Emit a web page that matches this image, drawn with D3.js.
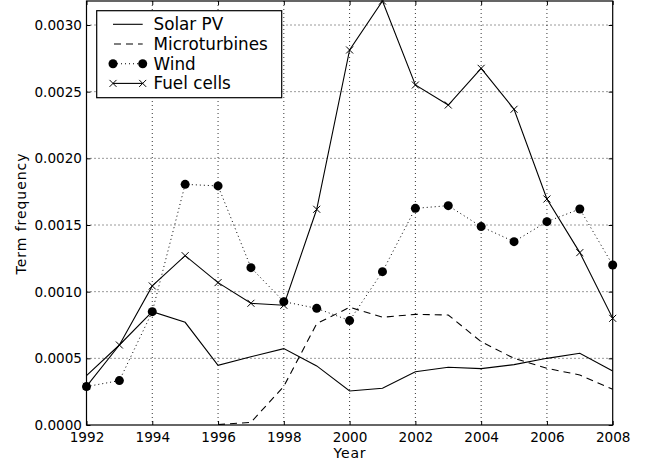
<!DOCTYPE html>
<html><head><meta charset="utf-8">
<script src="https://cdn.jsdelivr.net/npm/d3@7"></script>
<style>body{margin:0;background:#fff}svg{display:block;font-family:"DejaVu Sans",sans-serif}</style>
</head><body><div id="chart"></div>
<script>
const years = d3.range(1992, 2009);
const solarPV = [0.00037,0.00060,0.00085,0.00077,0.000448,0.000512,0.000573,0.000443,0.000255,0.000275,0.00040,0.000433,0.000423,0.000453,0.00050,0.000538,0.000405];
const microYears = d3.range(1996, 2009);
const microturbines = [0.000003,0.00002,0.00029,0.00076,0.000883,0.000808,0.00083,0.000825,0.000625,0.0005,0.000425,0.000375,0.000268];
const wind = [0.000288,0.000333,0.00085,0.001805,0.001793,0.00118,0.000925,0.000875,0.000783,0.00115,0.001625,0.001645,0.001488,0.001375,0.001525,0.00162,0.0012];
const fuelCells = [0.00029,0.00060,0.001043,0.00127,0.001068,0.000913,0.000898,0.001618,0.0028125,0.00318,0.00255,0.0024,0.002675,0.002368,0.001695,0.001293,0.0008];
const xTicks = [1992,1994,1996,1998,2000,2002,2004,2006,2008];
const yTicks = [0,0.0005,0.001,0.0015,0.002,0.0025,0.003];
const legendNames = ["Solar PV", "Microturbines", "Wind", "Fuel cells"];

const W = 647, H = 463;
const L = 86.5, R = 612.7, T = 1, B = 425;
const svg = d3.select("#chart").append("svg").attr("width", W).attr("height", H);
const x = d3.scaleLinear().domain([1992, 2008]).range([L, R]);
const y = d3.scaleLinear().domain([0, 0.00318]).range([B, T]);

svg.append("clipPath").attr("id", "plotclip").append("rect").attr("x", L).attr("y", T).attr("width", R - L).attr("height", B - T);

// grid
const grid = svg.append("g");
grid.selectAll(".gx").data(xTicks.slice(1, -1)).join("line")
  .attr("x1", d => x(d)).attr("x2", d => x(d)).attr("y1", T).attr("y2", B)
  .attr("stroke", "#000").attr("stroke-width", 0.8).attr("stroke-dasharray", "1,3");
grid.selectAll(".gy").data(yTicks.slice(1)).join("line")
  .attr("x1", L).attr("x2", R).attr("y1", d => y(d)).attr("y2", d => y(d))
  .attr("stroke", "#000").attr("stroke-width", 0.8).attr("stroke-dasharray", "1,3");

const plot = svg.append("g").attr("clip-path", "url(#plotclip)");
const line = d3.line().x(d => x(d[0])).y(d => y(d[1]));
const zip = (xs, vs) => xs.map((v, i) => [v, vs[i]]);

plot.append("path").attr("d", line(zip(years, solarPV))).attr("fill", "none").attr("stroke", "#000").attr("stroke-width", 1.1);
plot.append("path").attr("d", line(zip(microYears, microturbines))).attr("fill", "none").attr("stroke", "#000").attr("stroke-width", 1.1).attr("stroke-dasharray", "7,5");
plot.append("path").attr("d", line(zip(years, wind))).attr("fill", "none").attr("stroke", "#000").attr("stroke-width", 1).attr("stroke-dasharray", "1,3");
plot.append("path").attr("d", line(zip(years, fuelCells))).attr("fill", "none").attr("stroke", "#000").attr("stroke-width", 1.1);

const markers = svg.append("g");
markers.selectAll("circle").data(zip(years, wind)).join("circle")
  .attr("cx", d => x(d[0])).attr("cy", d => y(d[1])).attr("r", 4.5).attr("fill", "#000");
const xs = 3.5;
markers.selectAll("path.xm").data(zip(years, fuelCells)).join("path").attr("class", "xm")
  .attr("d", d => { const cx = x(d[0]), cy = y(d[1]); return `M${cx-xs},${cy-xs}L${cx+xs},${cy+xs}M${cx-xs},${cy+xs}L${cx+xs},${cy-xs}`; })
  .attr("stroke", "#000").attr("stroke-width", 1);

// frame
svg.append("rect").attr("x", L).attr("y", T).attr("width", R - L).attr("height", B - T)
  .attr("fill", "none").attr("stroke", "#000").attr("stroke-width", 1.2);

// axes (ticks inward)
const fs = 13.6;
const xAxis = d3.axisBottom(x).tickValues(xTicks).tickFormat(d3.format("d")).tickSizeInner(-4).tickSizeOuter(0);
const gx = svg.append("g").attr("transform", `translate(0,${B})`).call(xAxis);
const xAxisTop = d3.axisTop(x).tickValues(xTicks).tickFormat("").tickSizeInner(-4).tickSizeOuter(0);
const gxt = svg.append("g").attr("transform", `translate(0,${T})`).call(xAxisTop);
const yAxis = d3.axisLeft(y).tickValues(yTicks).tickFormat(d3.format(".4f")).tickSizeInner(-4).tickSizeOuter(0);
const gy = svg.append("g").attr("transform", `translate(${L},0)`).call(yAxis);
const yAxisR = d3.axisRight(y).tickValues(yTicks).tickFormat("").tickSizeInner(-4).tickSizeOuter(0);
const gyr = svg.append("g").attr("transform", `translate(${R},0)`).call(yAxisR);
[gx, gxt, gy, gyr].forEach(g => {
  g.attr("font-family", null).attr("font-size", null);
  g.select(".domain").remove();
  g.selectAll("line").attr("stroke", "#000").attr("stroke-width", 1);
  g.selectAll("text").attr("font-size", fs).attr("fill", "#000");
});
gx.selectAll("text").attr("y", 17.3).attr("dy", null);
gy.selectAll("text").attr("x", -4.5);

svg.append("text").attr("x", x(2000)).attr("y", 457.5).attr("text-anchor", "middle")
  .attr("font-size", 14).attr("textLength", 32).attr("lengthAdjust", "spacing").text("Year");
svg.append("text").attr("transform", `translate(26,${(T + B) / 2 + 1}) rotate(-90)`).attr("text-anchor", "middle")
  .attr("font-size", 14).attr("textLength", 121).attr("lengthAdjust", "spacing").text("Term frequency");

// legend
const lg = svg.append("g");
lg.append("rect").attr("x", 96.7).attr("y", 10.7).attr("width", 185).attr("height", 87)
  .attr("fill", "#fff").attr("stroke", "#000").attr("stroke-width", 1.2);
const ly = i => 24.3 + i * 19.7;
const lx1 = 113, lx2 = 142.7;
legendNames.forEach((name, i) => {
  const yy = ly(i);
  const ln = lg.append("line").attr("x1", lx1).attr("x2", lx2).attr("y1", yy).attr("y2", yy).attr("stroke", "#000").attr("stroke-width", 1.1);
  if (i === 1) ln.attr("stroke-dasharray", "7,5").attr("x1", lx1 + 1);
  if (i === 2) { ln.attr("stroke-dasharray", "1,3"); [lx1, lx2].forEach(cx => lg.append("circle").attr("cx", cx).attr("cy", yy).attr("r", 4.5)); }
  if (i === 3) [lx1, lx2].forEach(cx => lg.append("path").attr("d", `M${cx-xs},${yy-xs}L${cx+xs},${yy+xs}M${cx-xs},${yy+xs}L${cx+xs},${yy-xs}`).attr("stroke", "#000"));
  lg.append("text").attr("x", 153.5).attr("y", yy).attr("dy", "0.36em").attr("font-size", 16.8).text(name);
});
</script></body></html>
